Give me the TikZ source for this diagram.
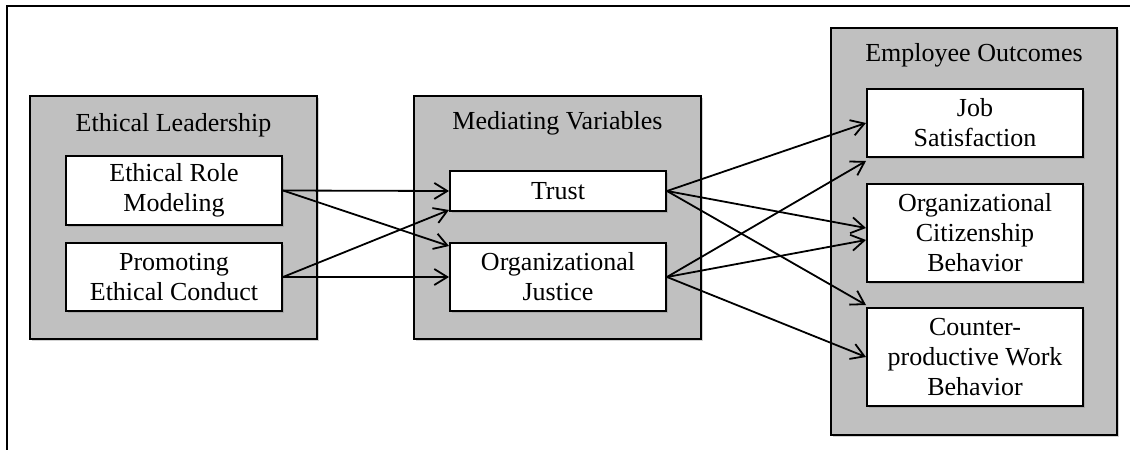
\documentclass[tikz,border=0pt]{standalone}
\usepackage{fontspec}
\setmainfont{Liberation Serif}
\usetikzlibrary{arrows.meta,shadows}
\definecolor{panel}{HTML}{C0C0C0}
\begin{document}
\begin{tikzpicture}[x=1pt,y=-1pt,
  txt/.style={font=\fontsize{26}{30}\selectfont, align=center},
  group/.style={draw=black, line width=2pt, fill=panel, inner sep=0pt,
    drop shadow={shadow xshift=1.5pt, shadow yshift=-2pt, opacity=0.35}},
  itembox/.style={txt, draw=black, line width=2pt, fill=white, inner sep=0pt,
    minimum width=216pt,
    drop shadow={shadow xshift=1.5pt, shadow yshift=-2pt, opacity=0.35}},
  link/.style={line width=1.8pt, -{Straight Barb[length=13pt,width=16pt,line width=1.8pt]}},
]
\useasboundingbox (0,0) rectangle (1130,450);
% outer frame (top and left edges)
\draw[line width=2pt] (1130,5.5) -- (6.5,5.5) -- (6.5,450);

% group panels
\node[group, minimum width=287pt, minimum height=243pt] (gl) at (173.5,217.5) {};
\node[group, minimum width=287pt, minimum height=243pt] (gm) at (557.5,217.5) {};
\node[group, minimum width=286pt, minimum height=407pt] (gr) at (974,231.5) {};

% group titles
\node[txt] (tl) at (173.5,125) {Ethical Leadership};
\node[txt] (tm) at (557.5,123) {Mediating Variables};
\node[txt] (tr) at (974,55) {Employee Outcomes};

% leadership items
\node[itembox, minimum height=69pt] (erm) at (174,190.5) {Ethical Role\\Modeling};
\node[itembox, minimum height=68pt] (pec) at (174,277) {Promoting\\Ethical Conduct};

% mediators
\node[itembox, minimum height=40pt] (trust) at (558,191) {Trust};
\node[itembox, minimum height=68pt] (oj) at (558,277) {Organizational\\Justice};

% outcomes
\node[itembox, minimum height=68pt] (job) at (975,123) {Job\\Satisfaction};
\node[itembox, minimum height=98pt] (ocb) at (975,233) {Organizational\\Citizenship\\Behavior};
\node[itembox, minimum height=98pt] (cwb) at (975,357) {Counter-\\productive Work\\Behavior};

% leadership -> mediators
\draw[link] (erm.east) -- (trust.west);
\draw[link] (erm.east) -- ([yshift=-4pt]oj.north west);
\draw[link] (pec.east) -- ([yshift=2pt]trust.south west);
\draw[link] (pec.east) -- (oj.west);

% mediators -> outcomes
\draw[link] (trust.east) -- (job.west);
\draw[link] (trust.east) -- ([yshift=5pt]ocb.west);
\draw[link] (trust.east) -- ([yshift=2pt]cwb.north west);
\draw[link] (oj.east) -- ([yshift=-3pt]job.south west);
\draw[link] (oj.east) -- ([yshift=-7pt]ocb.west);
\draw[link] (oj.east) -- (cwb.west);
\end{tikzpicture}
\end{document}
